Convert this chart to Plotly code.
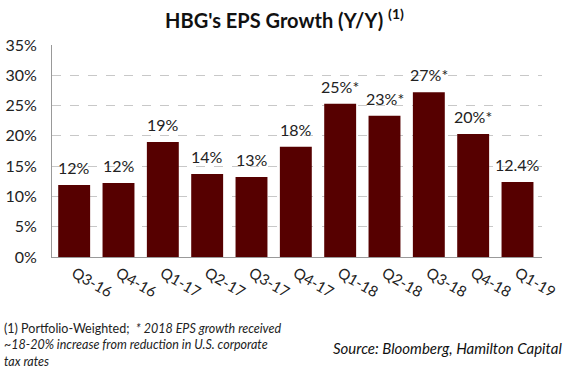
import plotly.graph_objects as go

categories = ["Q3-16", "Q4-16", "Q1-17", "Q2-17", "Q3-17", "Q4-17",
              "Q1-18", "Q2-18", "Q3-18", "Q4-18", "Q1-19"]
eps_growth = [11.9, 12.2, 19.0, 13.7, 13.2, 18.2, 25.3, 23.3, 27.2, 20.3, 12.4]
bar_labels = ["12%", "12%", "19%", "14%", "13%", "18%",
              "25%*", "23%*", "27%*", "20%*", "12.4%"]
y_ticks = [0, 5, 10, 15, 20, 25, 30, 35]
y_tick_labels = ["0%", "5%", "10%", "15%", "20%", "25%", "30%", "35%"]

FONT = "Lato"
BAR = "#560000"

fig = go.Figure()
fig.add_trace(go.Bar(
    x=categories, y=eps_growth,
    marker=dict(color=BAR, line=dict(width=0)),
    hoverinfo="x+y",
))

for cat, val, lab in zip(categories, eps_growth, bar_labels):
    fig.add_annotation(
        x=cat, y=val, xref="x", yref="y", text=lab, showarrow=False,
        xanchor="center", yanchor="bottom", yshift=6,
        font=dict(family=FONT, size=16, color="#222"),
    )

fig.update_layout(
    width=569, height=378,
    margin=dict(l=52, r=27, t=45, b=121, autoexpand=False),
    paper_bgcolor="white", plot_bgcolor="white",
    bargap=0.28,
    showlegend=False,
    title=dict(
        text="<b>HBG's EPS Growth (Y/Y) <sup>(1)</sup></b>",
        x=0.5, xanchor="center", y=0.945, yanchor="middle",
        font=dict(family=FONT, size=20, color="#111"),
    ),
    xaxis=dict(
        tickangle=30, automargin=False,
        tickfont=dict(family=FONT, size=15, color="#222"),
        showline=True, linecolor="#999", linewidth=1,
        ticks="outside", ticklen=1, tickcolor="rgba(0,0,0,0)", showgrid=False,
    ),
    yaxis=dict(
        range=[0, 35], tickvals=y_ticks, ticktext=y_tick_labels,
        automargin=False,
        tickfont=dict(family=FONT, size=16, color="#222"),
        showgrid=True, gridcolor="#c8c8c8", griddash="dash", gridwidth=1,
        showline=True, linecolor="#999", linewidth=1,
        zeroline=False, ticks="outside", ticklen=11, tickcolor="rgba(0,0,0,0)",
    ),
    font=dict(family=FONT),
)

fig.add_annotation(
    xref="paper", yref="paper", x=-50/490, y=-(319-257)/212, xanchor="left", yanchor="top",
    align="left", showarrow=False,
    text="(1) Portfolio-Weighted;  <i>* 2018 EPS growth received<br>~18-20% increase from reduction in U.S. corporate<br>tax rates</i>",
    font=dict(family=FONT, size=12.5, color="#222"),
)
fig.add_annotation(
    xref="paper", yref="paper", x=(564-52)/490, y=-(348-257)/212, xanchor="right", yanchor="middle",
    showarrow=False,
    text="<i>Source: Bloomberg, Hamilton Capital</i>",
    font=dict(family=FONT, size=15, color="#111"),
)

fig.write_html("out.html", config={"displayModeBar": False},
               post_script="document.body.style.margin='0';")
